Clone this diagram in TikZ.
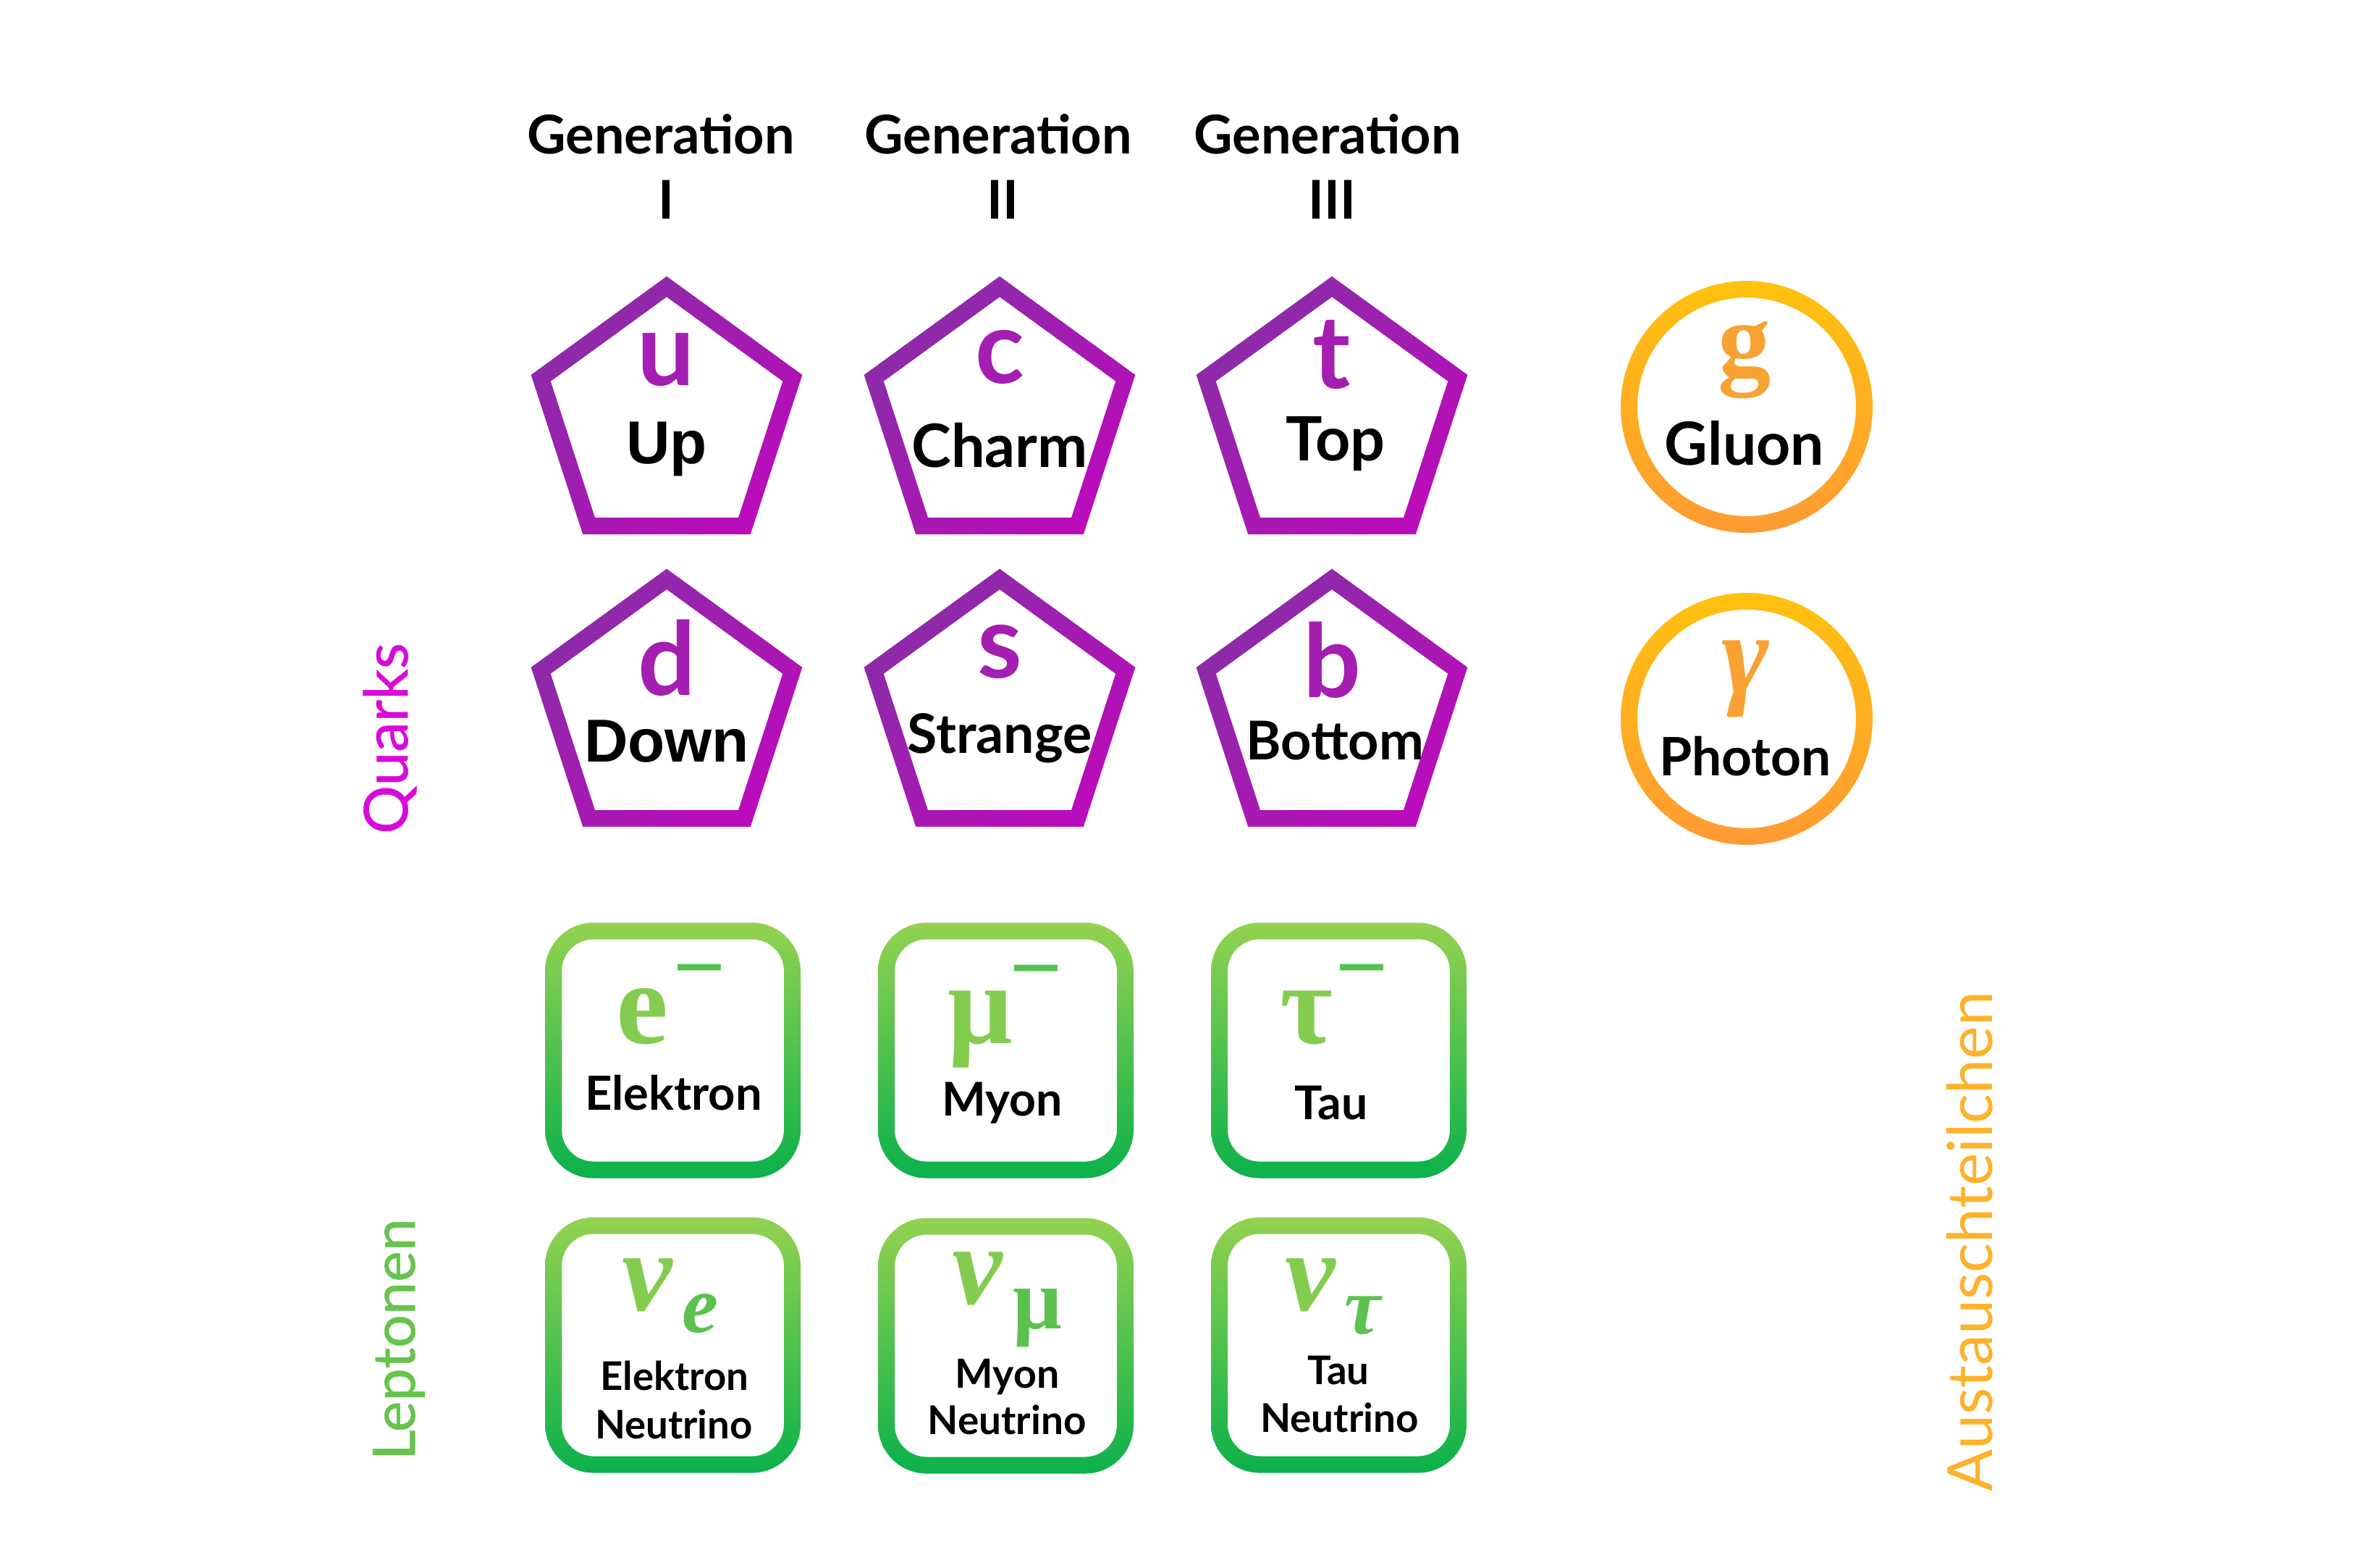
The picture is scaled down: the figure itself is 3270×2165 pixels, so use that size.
\documentclass[tikz,border=0pt]{standalone}
\usepackage{fontspec}
\setmainfont{Lato}
\newfontfamily\arialf{Liberation Sans}
\newfontfamily\serf{Liberation Serif}
\newfontfamily\medf[FakeBold=0.7]{Lato}
\usetikzlibrary{calc}
\definecolor{pentA}{HTML}{8A2DA8}
\definecolor{pentB}{HTML}{BA0CBA}
\definecolor{symP}{HTML}{A41EB2}
\definecolor{grnA}{HTML}{94D250}
\definecolor{grnB}{HTML}{0BB14B}
\definecolor{symG}{HTML}{84CC50}
\definecolor{subG}{HTML}{5CC24E}
\definecolor{minC}{HTML}{52C250}
\definecolor{orA}{HTML}{FFC20E}
\definecolor{orB}{HTML}{FF9A33}
\definecolor{symO}{HTML}{F8A233}
\definecolor{quarkC}{HTML}{D90AD9}
\definecolor{leptC}{HTML}{66C44C}
\definecolor{austC}{HTML}{FDB22A}
\newcommand\pentring[1]{%
 \shade[pentstyle] ($(#1)+(-90:197)$) -- ($(#1)+(-18:197)$) -- ($(#1)+(54:197)$) -- ($(#1)+(126:197)$) -- ($(#1)+(198:197)$) -- cycle
 ($(#1)+(-90:168.5)$) -- ($(#1)+(-18:168.5)$) -- ($(#1)+(54:168.5)$) -- ($(#1)+(126:168.5)$) -- ($(#1)+(198:168.5)$) -- cycle;}
\newcommand\greenring[1]{%
 \shade[boxstyle] [rounded corners=0.67cm] ($(#1)+(-176.5,-176.5)$) rectangle ($(#1)+(176.5,176.5)$)
 [rounded corners=0.44cm] ($(#1)+(-153.5,-153.5)$) rectangle ($(#1)+(153.5,153.5)$);}
\newcommand\orangering[1]{%
 \shade[circstyle] (#1) circle[radius=174] (#1) circle[radius=151];}
\tikzset{
 pentstyle/.style={even odd rule, left color=pentA, right color=pentB, shading angle=45},
 boxstyle/.style={even odd rule, top color=grnA, bottom color=grnB},
 circstyle/.style={even odd rule, top color=orA, bottom color=orB},
 hdr/.style={anchor=base, text=black, font=\fontsize{21}{25}\selectfont\bfseries},
 qsym/.style={anchor=base, text=symP, font=\fontsize{40}{44}\selectfont\bfseries},
 nm/.style={anchor=base, text=black, font=\fontsize{#1}{#1}\selectfont\bfseries},
 nmA/.style={anchor=base, text=black, font=\arialf\fontsize{#1}{#1}\selectfont\bfseries},
 ssym/.style={anchor=base, text=symG, font=\serf\fontsize{#1}{#1}\selectfont\bfseries},
 isym/.style={anchor=base, text=symG, font=\serf\fontsize{#1}{#1}\selectfont\bfseries\itshape},
 mns/.style={anchor=center, text=minC, font=\arialf\fontsize{35}{35}\selectfont},
 side/.style={rotate=90, anchor=base, font=\fontsize{#1}{#1}\selectfont},
 sidem/.style={rotate=90, anchor=base, font=\medf\fontsize{#1}{#1}\selectfont},
}
\begin{document}
\begin{tikzpicture}[x=0.01cm, y=-0.01cm, every node/.style={inner sep=0pt, outer sep=0pt}]
\fill[white] (0,0) rectangle (3270,2165);
\useasboundingbox (0,0) rectangle (3270,2165);

% centres
\coordinate (P11) at (921,578.7);
\coordinate (P12) at (1381,578.7);
\coordinate (P13) at (1840,578.7);
\coordinate (P21) at (921,982.7);
\coordinate (P22) at (1381,982.7);
\coordinate (P23) at (1840,982.7);
\coordinate (C1) at (2413,562);
\coordinate (C2) at (2413,993);
\coordinate (B11) at (929.5,1451);
\coordinate (B12) at (1389.5,1451);
\coordinate (B13) at (1849.5,1451);
\coordinate (B21) at (929.5,1858);
\coordinate (B22) at (1389.5,1859);
\coordinate (B23) at (1849.5,1858);

\pentring{P11}\pentring{P12}\pentring{P13}
\pentring{P21}\pentring{P22}\pentring{P23}
\orangering{C1}\orangering{C2}
\greenring{B11}\greenring{B12}\greenring{B13}
\greenring{B21}\greenring{B22}\greenring{B23}

% headers
\node[hdr] (gen1) at (913,212) {Generation};
\node[hdr] (num1) at (920,302) {I};
\node[hdr] (gen2) at (1379,212) {Generation};
\node[hdr] (num2) at (1385,302) {II};
\node[hdr] (gen3) at (1834,212) {Generation};
\node[hdr] (num3) at (1840,302) {III};

% quarks
\node[qsym] (uS) at (920,532) {u};
\node[nmA=23.8] (uN) at (921,640) {Up};
\node[qsym] (dS) at (921,960) {d};
\node[nmA=23.8] (dN) at (921,1052) {Down};
\node[qsym] (cS) at (1381,529) {c};
\node[nm=23.5] (cN) at (1381,645) {Charm};
\node[qsym] (sS) at (1381,936) {s};
\node[nm=21.4] (sN) at (1381,1040) {Strange};
\node[qsym] (tS) at (1840,536) {t};
\node[nm=24] (tN) at (1845,636) {Top};
\node[qsym] (bS) at (1840,963) {b};
\node[nm=21] (bN) at (1844,1049) {Bottom};

% bosons
\node[ssym=41.6, text=symO] (gS) at (2410,518) {g};
\node[nm=23.4] (gN) at (2410,642) {Gluon};
\node[isym=45, text=symO] (yS) at (2411,957) {γ};
\node[nm=20.8] (yN) at (2411,1071) {Photon};

% charged leptons
\node[ssym=46] (eS) at (887.5,1441) {e};
\node[mns] (eM) at (966,1355) {−};
\node[nm=18.5] (eN) at (930.5,1533) {Elektron};
\node[ssym=45] (mS) at (1354,1441) {μ};
\node[mns] (mM) at (1431.5,1355.5) {−};
\node[nm=18.3] (mN) at (1384.5,1541) {Myon};
\node[ssym=45] (tauS) at (1805,1441) {τ};
\node[mns] (tauM) at (1881,1355) {−};
\node[nm=18.3] (tauN) at (1839,1546) {Tau};

% neutrinos
\node[isym=44.5] (ve) at (894.5,1810) {ν};
\node[isym=32, text=subG] (veS) at (967,1840) {e};
\node[nm=15.5] (veN1) at (932,1920) {Elektron};
\node[nm=15.5] (veN2) at (931,1987) {Neutrino};
\node[isym=44.5] (vm) at (1350,1801) {ν};
\node[ssym=34, text=subG] (vmS) at (1433,1835) {μ};
\node[nm=15.8] (vmN1) at (1391.5,1917) {Myon};
\node[nm=15.6] (vmN2) at (1391,1981) {Neutrino};
\node[isym=44.5] (vt) at (1810.5,1810) {ν};
\node[isym=32, text=subG] (vtS) at (1882,1842) {τ};
\node[nm=15.5] (vtN1) at (1849,1912) {Tau};
\node[nm=15.6] (vtN2) at (1850.5,1978) {Neutrino};

% side labels
\node[sidem=23.8, text=quarkC] (quarks) at (563,1020) {Quarks};
\node[sidem=23, text=leptC] (leptonen) at (573,1850) {Leptonen};
\node[side=24.5, text=austC] (aust) at (2752,1715) {Austauschteilchen};
\end{tikzpicture}
\end{document}
